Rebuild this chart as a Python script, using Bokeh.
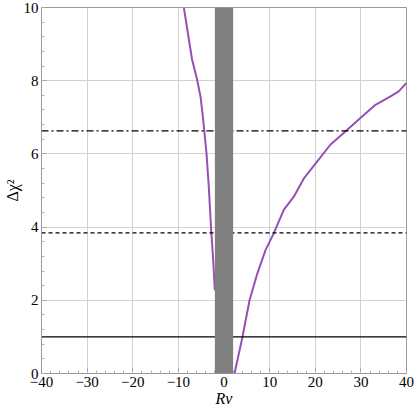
import numpy as np
from bokeh.plotting import figure
from bokeh.models import Range1d, FixedTicker, Span, BoxAnnotation
from bokeh.embed import file_html
from bokeh.resources import INLINE

# ---- data ----
left_x = [-8.8, -7.0, -5.9, -5.15, -4.56, -3.84, -3.33, -2.81, -2.37, -2.01]
left_y = [10.0, 8.58, 8.03, 7.57, 6.93, 6.02, 5.10, 3.92, 3.10, 2.27]
right_x = [2.3, 4.0, 5.6, 7.3, 9.1, 10.9, 13.1, 15.3, 17.5, 20.4, 23.3, 26.6, 29.9, 33.2, 36.5, 38.3, 40.0]
right_y = [0.0, 0.97, 2.0, 2.73, 3.37, 3.83, 4.47, 4.83, 5.33, 5.79, 6.25, 6.61, 6.98, 7.34, 7.57, 7.71, 7.94]
thresholds = [1.0, 3.84, 6.63]
threshold_dash = ["solid", "4 3", "7 3 2 3"]
band = [-2.0, 2.0]
x_ticks = [-40, -30, -20, -10, 0, 10, 20, 30, 40]
y_ticks = [0, 2, 4, 6, 8, 10]

FONT = "'Liberation Serif', 'Times New Roman', serif"
PURPLE = "#9650b4"

p = figure(width=414, height=413, x_range=Range1d(-40, 40), y_range=Range1d(0, 10),
           output_backend="svg", toolbar_location=None,
           min_border_left=41, min_border_right=8, min_border_top=7, min_border_bottom=40)
p.background_fill_color = "white"
p.border_fill_color = "white"
p.outline_line_color = "#9a9a9a"
p.outline_line_width = 1

for ax, ticks in ((p.xaxis[0], x_ticks), (p.yaxis[0], y_ticks)):
    ax.ticker = FixedTicker(ticks=ticks,
                            minor_ticks=list(np.arange(ticks[0], ticks[-1] + 1e-9, (ticks[1] - ticks[0]) / 5)))
    ax.major_label_overrides = {t: (("\u2212" + str(abs(t))) if t < 0 else str(t)) for t in ticks}
    ax.major_label_text_font = FONT
    ax.major_label_text_font_size = "15px"
    ax.major_label_text_color = "black"
    ax.major_tick_in = 5
    ax.major_tick_out = 0
    ax.minor_tick_in = 3
    ax.minor_tick_out = 0
    ax.major_tick_line_color = "#9a9a9a"
    ax.minor_tick_line_color = "#b0b0b0"
    ax.axis_line_color = "#9a9a9a"
    ax.axis_label_text_font = FONT
    ax.axis_label_text_font_size = "16px"
    ax.axis_label_text_color = "black"
    ax.axis_label_standoff = 0
p.xaxis.major_label_standoff = 3
p.yaxis.major_label_standoff = 3
p.xaxis.axis_label = "R\u03bd"
p.xaxis.axis_label_text_font_style = "italic"
p.yaxis.axis_label = "\u0394\u03c7\u00b2"
p.yaxis.axis_label_text_font_style = "normal"

p.xgrid.ticker = FixedTicker(ticks=x_ticks)
p.ygrid.ticker = FixedTicker(ticks=y_ticks)
p.grid.grid_line_color = "#d2d2d2"
p.grid.grid_line_width = 1

for loc, dash in zip(thresholds, threshold_dash):
    p.add_layout(Span(location=loc, dimension="width", line_color="black",
                      line_width=1.3, line_dash=dash, level="glyph"))

p.line(left_x, left_y, line_color=PURPLE, line_width=2)
p.line(right_x, right_y, line_color=PURPLE, line_width=2)

p.add_layout(BoxAnnotation(left=band[0], right=band[1], fill_color="#808080",
                           fill_alpha=1.0, line_alpha=0))

open("out.html", "w").write(file_html(p, INLINE))
